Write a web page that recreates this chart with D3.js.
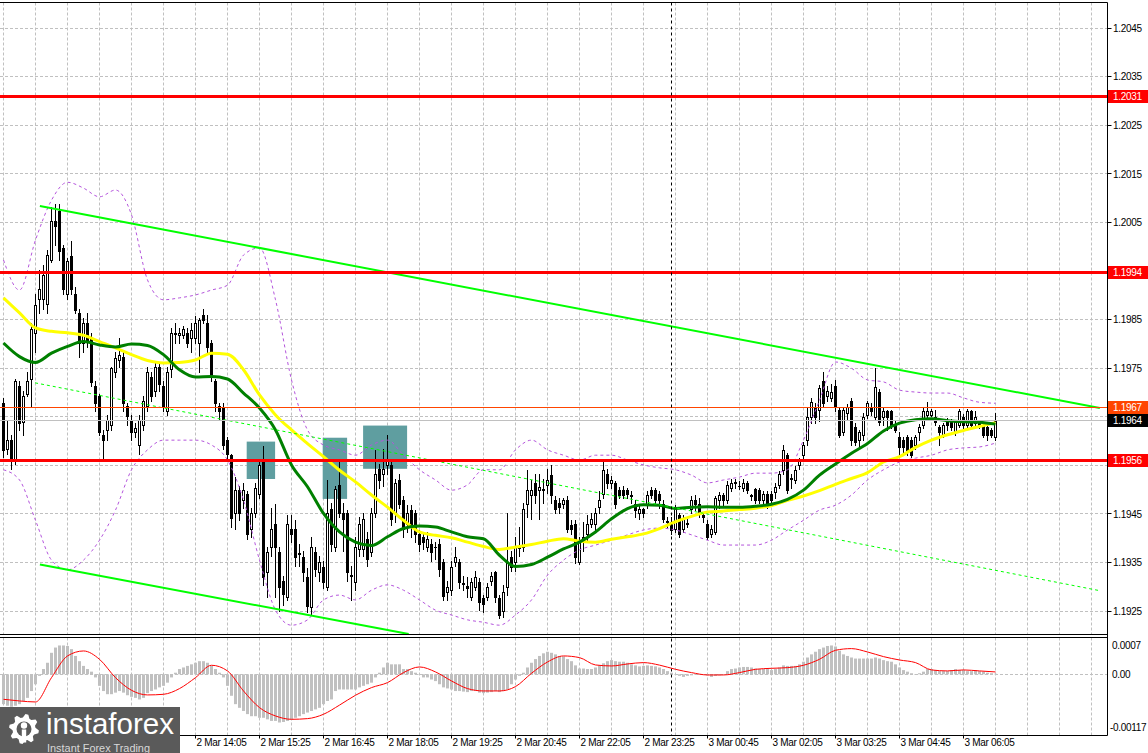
<!DOCTYPE html>
<html><head><meta charset="utf-8">
<script src="https://cdn.jsdelivr.net/npm/d3@7"></script>
<style>
html,body{margin:0;padding:0;background:#fff;}
svg{display:block;}
text{font-family:"Liberation Sans",Arial,sans-serif;}
</style></head><body>
<svg id="chart" width="1148" height="753"></svg>
<script>
// ---------------- DATA ----------------
const opens=[
1.19679,1.19583,1.19603,1.19563,1.19713,1.19639,1.19698,1.19728,1.19823,1.19893,
1.19893,1.19883,1.19973,1.20053,1.20073,1.19998,1.19903,1.19981,1.19902,1.19863,
1.19803,1.19843,1.19813,1.19713,1.19692,1.19613,1.19623,1.19633,1.19743,1.19768,
1.19773,1.19673,1.19643,1.19618,1.19593,1.19633,1.19673,1.19733,1.19703,1.19753,
1.19713,1.19663,1.19748,1.19823,1.19818,1.19818,1.19823,1.19813,1.19813,1.19803,
1.19860,1.19843,1.19802,1.19723,1.19673,1.19671,1.19603,1.19571,1.19451,1.19499,
1.19478,1.19492,1.19420,1.19451,1.19492,1.19561,1.19330,1.19382,1.19430,1.19371,
1.19313,1.19279,1.19420,1.19420,1.19368,1.19361,1.19320,1.19258,1.19371,1.19330,
1.19340,1.19299,1.19461,1.19382,1.19509,1.19453,1.19451,1.19325,1.19309,1.19378,
1.19378,1.19399,1.19371,1.19451,1.19543,1.19533,1.19551,1.19551,1.19451,1.19520,
1.19478,1.19430,1.19458,1.19451,1.19409,1.19403,1.19382,1.19389,1.19382,1.19389,
1.19351,1.19289,1.19293,1.19351,1.19351,1.19308,1.19301,1.19279,1.19299,1.19309,
1.19278,1.19279,1.19313,1.19330,1.19278,1.19251,1.19299,1.19361,1.19351,1.19382,
1.19382,1.19471,1.19489,1.19513,1.19499,1.19500,1.19509,1.19531,1.19478,1.19473,
1.19471,1.19478,1.19428,1.19430,1.19351,1.19392,1.19409,1.19430,1.19430,1.19464,
1.19492,1.19533,1.19513,1.19513,1.19499,1.19499,1.19500,1.19489,1.19471,1.19451,
1.19461,1.19471,1.19500,1.19500,1.19492,1.19471,1.19435,1.19433,1.19420,1.19447,
1.19420,1.19429,1.19461,1.19478,1.19471,1.19447,1.19430,1.19409,1.19413,1.19478,
1.19489,1.19478,1.19503,1.19513,1.19508,1.19503,1.19513,1.19489,1.19501,1.19499,
1.19478,1.19492,1.19492,1.19496,1.19509,1.19540,1.19571,1.19523,1.19519,1.19551,
1.19571,1.19602,1.19650,1.19671,1.19664,1.19723,1.19692,1.19688,1.19713,1.19664,
1.19619,1.19657,1.19682,1.19630,1.19602,1.19613,1.19654,1.19671,1.19650,1.19702,
1.19650,1.19661,1.19661,1.19633,1.19609,1.19602,1.19609,1.19602,1.19592,1.19619,
1.19633,1.19654,1.19654,1.19650,1.19630,1.19613,1.19640,1.19640,1.19619,1.19633,
1.19650,1.19633,1.19661,1.19637,1.19640,1.19633,1.19630,1.19623,1.19609];
const highs=[
1.19688,1.19643,1.19613,1.19728,1.19723,1.19703,1.19743,1.19843,1.19903,1.19953,
1.19963,1.19993,1.20083,1.20088,1.20089,1.20003,1.19978,1.20013,1.19918,1.19873,
1.19853,1.19863,1.19823,1.19723,1.19698,1.19623,1.19653,1.19753,1.19783,1.19813,
1.19783,1.19678,1.19653,1.19638,1.19653,1.19693,1.19753,1.19743,1.19763,1.19763,
1.19723,1.19753,1.19833,1.19843,1.19833,1.19838,1.19833,1.19843,1.19858,1.19853,
1.19873,1.19860,1.19808,1.19728,1.19678,1.19678,1.19608,1.19573,1.19527,1.19508,
1.19513,1.19498,1.19463,1.19513,1.19563,1.19589,1.19383,1.19463,1.19471,1.19383,
1.19323,1.19448,1.19448,1.19438,1.19388,1.19373,1.19338,1.19403,1.19383,1.19363,
1.19353,1.19520,1.19473,1.19508,1.19558,1.19473,1.19458,1.19343,1.19403,1.19443,
1.19453,1.19413,1.19463,1.19581,1.19553,1.19583,1.19613,1.19563,1.19523,1.19533,
1.19488,1.19468,1.19468,1.19458,1.19418,1.19413,1.19413,1.19398,1.19393,1.19398,
1.19358,1.19313,1.19353,1.19383,1.19358,1.19323,1.19320,1.19318,1.19333,1.19318,
1.19283,1.19308,1.19330,1.19333,1.19283,1.19303,1.19453,1.19373,1.19403,1.19423,
1.19473,1.19540,1.19520,1.19533,1.19533,1.19523,1.19543,1.19550,1.19488,1.19483,
1.19483,1.19488,1.19438,1.19438,1.19403,1.19433,1.19448,1.19453,1.19463,1.19498,
1.19558,1.19543,1.19528,1.19518,1.19506,1.19508,1.19503,1.19498,1.19478,1.19468,
1.19463,1.19498,1.19506,1.19503,1.19498,1.19478,1.19443,1.19443,1.19468,1.19453,
1.19448,1.19443,1.19488,1.19489,1.19483,1.19453,1.19438,1.19428,1.19488,1.19496,
1.19493,1.19518,1.19523,1.19523,1.19518,1.19523,1.19518,1.19492,1.19503,1.19503,
1.19498,1.19498,1.19498,1.19513,1.19538,1.19592,1.19575,1.19533,1.19548,1.19566,
1.19598,1.19668,1.19688,1.19678,1.19716,1.19743,1.19713,1.19718,1.19726,1.19671,
1.19668,1.19676,1.19688,1.19638,1.19623,1.19658,1.19683,1.19678,1.19750,1.19708,
1.19668,1.19664,1.19664,1.19643,1.19618,1.19608,1.19613,1.19608,1.19613,1.19635,
1.19668,1.19681,1.19666,1.19664,1.19633,1.19638,1.19648,1.19645,1.19643,1.19666,
1.19655,1.19666,1.19665,1.19663,1.19643,1.19638,1.19633,1.19628,1.19658];
const lows=[
1.19568,1.19573,1.19543,1.19553,1.19623,1.19613,1.19693,1.19673,1.19783,1.19863,
1.19873,1.19863,1.19968,1.20003,1.19973,1.19903,1.19893,1.19903,1.19863,1.19773,
1.19783,1.19793,1.19713,1.19663,1.19613,1.19563,1.19603,1.19623,1.19733,1.19753,
1.19663,1.19633,1.19603,1.19608,1.19573,1.19623,1.19663,1.19683,1.19693,1.19703,
1.19663,1.19653,1.19733,1.19803,1.19803,1.19813,1.19793,1.19783,1.19803,1.19743,
1.19843,1.19783,1.19723,1.19663,1.19643,1.19583,1.19563,1.19423,1.19420,1.19438,
1.19463,1.19398,1.19403,1.19443,1.19483,1.19303,1.19279,1.19363,1.19279,1.19251,
1.19263,1.19273,1.19393,1.19343,1.19343,1.19313,1.19248,1.19244,1.19323,1.19313,
1.19298,1.19293,1.19373,1.19373,1.19443,1.19373,1.19313,1.19273,1.19293,1.19363,
1.19363,1.19343,1.19363,1.19443,1.19503,1.19508,1.19533,1.19428,1.19433,1.19463,
1.19403,1.19413,1.19403,1.19393,1.19373,1.19378,1.19373,1.19353,1.19358,1.19323,
1.19273,1.19273,1.19283,1.19343,1.19298,1.19293,1.19279,1.19273,1.19293,1.19253,
1.19248,1.19273,1.19303,1.19268,1.19236,1.19238,1.19283,1.19333,1.19333,1.19363,
1.19373,1.19443,1.19440,1.19473,1.19440,1.19473,1.19493,1.19473,1.19451,1.19453,
1.19463,1.19413,1.19408,1.19350,1.19348,1.19373,1.19393,1.19423,1.19413,1.19453,
1.19483,1.19503,1.19503,1.19463,1.19483,1.19483,1.19483,1.19473,1.19443,1.19440,
1.19443,1.19463,1.19483,1.19473,1.19463,1.19433,1.19423,1.19409,1.19413,1.19403,
1.19413,1.19423,1.19453,1.19458,1.19443,1.19433,1.19398,1.19403,1.19408,1.19463,
1.19468,1.19473,1.19498,1.19503,1.19501,1.19498,1.19493,1.19478,1.19473,1.19473,
1.19468,1.19463,1.19473,1.19483,1.19503,1.19533,1.19493,1.19503,1.19513,1.19543,
1.19563,1.19593,1.19638,1.19638,1.19642,1.19673,1.19683,1.19683,1.19663,1.19608,
1.19613,1.19643,1.19593,1.19593,1.19588,1.19603,1.19648,1.19653,1.19643,1.19633,
1.19633,1.19623,1.19628,1.19618,1.19571,1.19578,1.19572,1.19567,1.19583,1.19603,
1.19628,1.19648,1.19651,1.19633,1.19593,1.19608,1.19623,1.19623,1.19613,1.19630,
1.19628,1.19630,1.19628,1.19633,1.19628,1.19608,1.19602,1.19608,1.19603];
const closes=[
1.19581,1.19603,1.19563,1.19723,1.19637,1.19693,1.19723,1.19831,1.19881,1.19913,
1.19943,1.19983,1.20053,1.20043,1.19991,1.19913,1.19971,1.19913,1.19871,1.19803,
1.19843,1.19809,1.19721,1.19678,1.19619,1.19603,1.19643,1.19750,1.19771,1.19778,
1.19678,1.19651,1.19619,1.19628,1.19643,1.19683,1.19743,1.19693,1.19753,1.19718,
1.19673,1.19743,1.19823,1.19820,1.19823,1.19831,1.19803,1.19828,1.19843,1.19850,
1.19850,1.19793,1.19733,1.19678,1.19661,1.19593,1.19573,1.19441,1.19499,1.19451,
1.19500,1.19409,1.19451,1.19503,1.19551,1.19320,1.19371,1.19420,1.19382,1.19299,
1.19285,1.19430,1.19409,1.19361,1.19369,1.19330,1.19261,1.19382,1.19337,1.19351,
1.19309,1.19451,1.19389,1.19502,1.19451,1.19440,1.19330,1.19323,1.19382,1.19430,
1.19440,1.19358,1.19451,1.19533,1.19520,1.19543,1.19561,1.19440,1.19513,1.19471,
1.19420,1.19451,1.19423,1.19409,1.19389,1.19392,1.19399,1.19371,1.19381,1.19337,
1.19282,1.19299,1.19341,1.19361,1.19309,1.19305,1.19297,1.19309,1.19320,1.19268,
1.19265,1.19299,1.19323,1.19279,1.19241,1.19289,1.19351,1.19341,1.19382,1.19383,
1.19461,1.19499,1.19499,1.19489,1.19506,1.19501,1.19520,1.19489,1.19461,1.19465,
1.19478,1.19420,1.19420,1.19361,1.19392,1.19403,1.19430,1.19440,1.19451,1.19478,
1.19540,1.19513,1.19519,1.19471,1.19489,1.19489,1.19491,1.19488,1.19458,1.19461,
1.19451,1.19489,1.19489,1.19478,1.19478,1.19440,1.19433,1.19416,1.19461,1.19409,
1.19440,1.19432,1.19478,1.19471,1.19451,1.19444,1.19403,1.19420,1.19482,1.19489,
1.19478,1.19509,1.19513,1.19516,1.19507,1.19513,1.19499,1.19488,1.19478,1.19478,
1.19492,1.19471,1.19478,1.19506,1.19533,1.19582,1.19499,1.19525,1.19540,1.19561,
1.19592,1.19650,1.19681,1.19650,1.19709,1.19678,1.19703,1.19702,1.19671,1.19613,
1.19664,1.19671,1.19602,1.19599,1.19619,1.19650,1.19678,1.19661,1.19712,1.19640,
1.19661,1.19650,1.19633,1.19623,1.19588,1.19588,1.19582,1.19571,1.19609,1.19630,
1.19661,1.19661,1.19661,1.19640,1.19619,1.19633,1.19633,1.19630,1.19640,1.19661,
1.19633,1.19661,1.19633,1.19650,1.19633,1.19613,1.19613,1.19613,1.19642];

// indicator lines, read every 4th bar
const maIndex=[0,4,8,12,16,20,24,28,32,36,40,44,48,52,56,60,64,68,72,76,80,84,88,92,96,100,104,108,112,116,120,124,128,132,136,140,144,148,152,156,160,164,168,172,176,180,184,188,192,196,200,204,208,212,216,220,224,228,232,236,240,244,248];
const maYellow=[1.19895,1.19864,1.19833,1.19826,1.19823,1.19818,1.19805,1.19792,1.19778,1.19766,1.19761,1.19762,1.19767,1.19781,1.19779,1.19747,1.19695,1.19654,1.19623,1.19595,1.19568,1.19540,1.19516,1.19489,1.19464,1.19437,1.19413,1.19406,1.19401,1.19392,1.19383,1.19377,1.19382,1.19387,1.19394,1.19399,1.19394,1.19392,1.19398,1.19403,1.19409,1.19420,1.19434,1.19445,1.19454,1.19456,1.19459,1.19462,1.19467,1.19478,1.19487,1.19498,1.19511,1.19523,1.19535,1.19557,1.19568,1.19587,1.19602,1.19613,1.19622,1.19630,1.19638];
const maGreen=[1.19802,1.19774,1.19762,1.19781,1.19795,1.19805,1.19798,1.19794,1.19800,1.19797,1.19778,1.19747,1.19732,1.19733,1.19728,1.19699,1.19668,1.19623,1.19551,1.19506,1.19451,1.19413,1.19392,1.19385,1.19403,1.19420,1.19425,1.19423,1.19413,1.19403,1.19399,1.19365,1.19342,1.19346,1.19361,1.19378,1.19392,1.19413,1.19440,1.19461,1.19469,1.19468,1.19461,1.19464,1.19465,1.19464,1.19464,1.19466,1.19470,1.19480,1.19499,1.19530,1.19553,1.19575,1.19595,1.19621,1.19637,1.19644,1.19646,1.19642,1.19640,1.19639,1.19635];
const bandUpper=[1.19973,1.19911,1.20014,1.20096,1.20133,1.20121,1.20103,1.20117,1.20066,1.19932,1.19891,1.19895,1.19901,1.19911,1.19921,1.19983,1.19998,1.19891,1.19726,1.19623,1.19592,1.19582,1.19571,1.19592,1.19602,1.19571,1.19541,1.19520,1.19499,1.19510,1.19541,1.19541,1.19582,1.19602,1.19582,1.19571,1.19561,1.19571,1.19571,1.19561,1.19551,1.19545,1.19541,1.19530,1.19514,1.19520,1.19526,1.19534,1.19534,1.19541,1.19602,1.19684,1.19763,1.19750,1.19726,1.19722,1.19705,1.19701,1.19699,1.19699,1.19689,1.19680,1.19678];
const bandLower=[1.19541,1.19520,1.19437,1.19355,1.19335,1.19355,1.19396,1.19458,1.19541,1.19582,1.19602,1.19602,1.19602,1.19592,1.19561,1.19479,1.19355,1.19252,1.19221,1.19232,1.19273,1.19283,1.19273,1.19293,1.19304,1.19293,1.19273,1.19252,1.19242,1.19232,1.19227,1.19221,1.19242,1.19273,1.19324,1.19355,1.19376,1.19386,1.19396,1.19407,1.19417,1.19421,1.19417,1.19407,1.19396,1.19386,1.19386,1.19386,1.19396,1.19417,1.19437,1.19458,1.19468,1.19489,1.19520,1.19541,1.19557,1.19565,1.19571,1.19582,1.19586,1.19588,1.19596];
const macdHist=[
-0.00057,-0.00060,-0.00062,-0.00060,-0.00057,-0.00051,-0.00045,-0.00032,-0.00019,-0.00003,
0.00010,0.00022,0.00041,0.00051,0.00055,0.00055,0.00054,0.00048,0.00035,0.00025,
0.00016,0.00010,0.00005,-0.00006,-0.00022,-0.00032,-0.00038,-0.00038,-0.00035,-0.00032,
-0.00035,-0.00040,-0.00043,-0.00045,-0.00048,-0.00045,-0.00036,-0.00032,-0.00029,-0.00025,
-0.00022,-0.00016,-0.00006,0.00003,0.00010,0.00013,0.00016,0.00019,0.00022,0.00025,
0.00025,0.00022,0.00016,0.00010,0.00003,-0.00006,-0.00022,-0.00041,-0.00057,-0.00064,
-0.00070,-0.00076,-0.00080,-0.00080,-0.00083,-0.00083,-0.00086,-0.00089,-0.00089,-0.00092,
-0.00091,-0.00089,-0.00086,-0.00083,-0.00080,-0.00076,-0.00073,-0.00070,-0.00067,-0.00064,
-0.00057,-0.00051,-0.00048,-0.00032,-0.00029,-0.00029,-0.00029,-0.00029,-0.00029,-0.00025,
-0.00022,-0.00019,-0.00016,-0.00006,0.00003,0.00013,0.00022,0.00019,0.00019,0.00019,
0.00010,0.00010,0.00006,0.00003,0.00000,-0.00006,-0.00006,-0.00010,-0.00013,-0.00019,
-0.00025,-0.00027,-0.00029,-0.00032,-0.00032,-0.00033,-0.00034,-0.00032,-0.00032,-0.00035,
-0.00036,-0.00035,-0.00034,-0.00032,-0.00034,-0.00032,-0.00029,-0.00019,-0.00010,-0.00003,
0.00003,0.00013,0.00022,0.00029,0.00035,0.00040,0.00043,0.00041,0.00038,0.00035,
0.00034,0.00029,0.00025,0.00017,0.00011,0.00011,0.00010,0.00010,0.00013,0.00017,
0.00021,0.00025,0.00027,0.00025,0.00024,0.00024,0.00022,0.00019,0.00017,0.00015,
0.00016,0.00017,0.00016,0.00015,0.00013,0.00010,0.00006,0.00003,0.00000,-0.00003,
-0.00005,-0.00003,-0.00002,0.00000,0.00000,0.00000,-0.00002,-0.00005,-0.00003,-0.00002,
0.00000,0.00006,0.00010,0.00011,0.00013,0.00014,0.00014,0.00013,0.00011,0.00010,
0.00010,0.00010,0.00008,0.00010,0.00013,0.00017,0.00016,0.00016,0.00016,0.00019,
0.00024,0.00032,0.00038,0.00043,0.00048,0.00051,0.00054,0.00055,0.00053,0.00045,
0.00038,0.00035,0.00032,0.00030,0.00030,0.00030,0.00030,0.00030,0.00032,0.00030,
0.00027,0.00025,0.00024,0.00019,0.00013,0.00008,0.00005,0.00002,0.00000,0.00002,
0.00005,0.00010,0.00010,0.00008,0.00006,0.00006,0.00006,0.00008,0.00010,0.00008,
0.00008,0.00006,0.00006,0.00008,0.00006,0.00005,0.00003,0.00002,0.00001];
const macdSignal=[-0.000477,-0.000509,-0.000528,-0.000064,0.00035,0.000445,0.000286,-0.000064,-0.000305,-0.000394,-0.000382,-0.000273,-0.000064,0.000172,0.000064,-0.000318,-0.000636,-0.000795,-0.000859,-0.000846,-0.000763,-0.000588,-0.0004,-0.000254,-0.000159,0.000032,0.00014,0.000045,-0.000127,-0.000273,-0.000318,-0.000318,-0.000235,0.000019,0.000235,0.00035,0.000318,0.000178,0.000159,0.000197,0.000223,0.000175,0.000095,0.000032,-0.000013,-0.000013,0.000032,0.000095,0.000114,0.000127,0.000172,0.000286,0.000458,0.00049,0.000426,0.000337,0.000273,0.000223,0.000083,0.000064,0.000083,0.000064,0.000045];

// axis ticks
const priceTicks=[1.2045,1.2035,1.2025,1.2015,1.2005,1.1995,1.1985,1.1975,1.1965,1.1955,1.1945,1.1935,1.1925];
const macdTicks=[0.0007,0,-0.00117];
const macdTickLabels=["0.0007","0.00","-0.00117"];
const timeTickIndex=[48,64,80,96,112,128,144,160,176,192,208,224,240];
const timeTickLabels=["2 Mar 14:05","2 Mar 15:25","2 Mar 16:45","2 Mar 18:05","2 Mar 19:25","2 Mar 20:45","2 Mar 22:05","2 Mar 23:25","3 Mar 00:45","3 Mar 02:05","3 Mar 03:25","3 Mar 04:45","3 Mar 06:05"];
const daySeparatorIndex=[167];

// horizontal levels
const redLevels=[1.2031,1.19948,1.1956];
const redLevelLabels=["1.2031","1.1994","1.1956"];
const orangeLevel=[1.1967];
const orangeLevelLabels=["1.1967"];
const bidLabel=["1.1964"];

// trend lines [startIndex, startPrice, endIndex, endPrice]
const trendUpper=[9.1,1.20084,274.1,1.19668];
const trendLower=[9.1,1.19346,101.3,1.19203];
const trendDashed=[7.9,1.19720,274.1,1.19292];

// rectangles
const boxStart=[60.8,79.8,89.9];
const boxEnd=[67.9,85.9,100.9];
const boxTop=[1.19599,1.19607,1.19632];
const boxBottom=[1.19522,1.19481,1.19543];

// ---------------- CHART ----------------
const svg=d3.select("#chart");
const plotRight=1107.5, mainTop=2.5, mainBottom=634.5, macdTop=637.5, macdBottom=735.5;
const x=d3.scaleLinear().domain([0,1]).range([3.5,7.5]);
const y=d3.scaleLinear().domain([1.1925,1.2045]).range([611.1,28.3]);
const ym=d3.scaleLinear().domain([-0.00117,0.0007]).range([735.6,637.6]);
const crisp=v=>Math.round(v-0.5)+0.5;

const defs=svg.append("defs");
defs.append("clipPath").attr("id","clipMain").append("rect").attr("x",0).attr("y",mainTop).attr("width",plotRight).attr("height",mainBottom-mainTop);
defs.append("clipPath").attr("id","clipMacd").append("rect").attr("x",0).attr("y",macdTop).attr("width",plotRight).attr("height",macdBottom-macdTop);

svg.append("rect").attr("width",1148).attr("height",753).attr("fill","#fff");

// grid
const gridIdx=d3.range(0,276,8);
const gGrid=svg.append("g").attr("stroke","#c0c0c0").attr("stroke-width",1).attr("stroke-dasharray","3,2");
gGrid.selectAll(".vg").data(gridIdx).enter().append("line")
  .attr("x1",d=>x(d)).attr("x2",d=>x(d)).attr("y1",mainTop).attr("y2",mainBottom);
gGrid.selectAll(".vg2").data(gridIdx).enter().append("line")
  .attr("x1",d=>x(d)).attr("x2",d=>x(d)).attr("y1",macdTop).attr("y2",macdBottom);
gGrid.selectAll(".hg").data(priceTicks).enter().append("line")
  .attr("x1",0).attr("x2",plotRight).attr("y1",d=>crisp(y(d))).attr("y2",d=>crisp(y(d)));
gGrid.append("line").attr("x1",0).attr("x2",plotRight).attr("y1",crisp(ym(0))).attr("y2",crisp(ym(0)));

const gMain=svg.append("g").attr("clip-path","url(#clipMain)");

// rectangles (background objects)
gMain.selectAll(".box").data(boxStart).enter().append("rect")
  .attr("x",(d,i)=>x(d)).attr("width",(d,i)=>x(boxEnd[i])-x(d))
  .attr("y",(d,i)=>y(boxTop[i])).attr("height",(d,i)=>y(boxBottom[i])-y(boxTop[i]))
  .attr("fill","#5f9ea0");

// candles
const idx=d3.range(closes.length);
gMain.selectAll(".wick").data(idx).enter().append("line")
  .attr("x1",i=>x(i)).attr("x2",i=>x(i))
  .attr("y1",i=>Math.round(y(highs[i]))).attr("y2",i=>Math.round(y(lows[i]))+1)
  .attr("stroke","#000").attr("stroke-width",1);
gMain.selectAll(".body").data(idx).enter().append("rect")
  .each(function(i){
    const o=opens[i],c=closes[i];
    const t=Math.round(y(Math.max(o,c))), b=Math.round(y(Math.min(o,c)));
    const s=d3.select(this);
    if(c>o){
      s.attr("x",x(i)-1).attr("y",t+0.5).attr("width",2).attr("height",Math.max(1,b-t))
       .attr("fill","#fff").attr("stroke","#000").attr("stroke-width",1);
    }else{
      s.attr("x",x(i)-1.5).attr("y",t).attr("width",3).attr("height",Math.max(1,b-t+1)).attr("fill","#000");
    }
  });

// bollinger bands
const lineIdx=(arr)=>d3.line().x((d,k)=>x(maIndex[k])).y(d=>y(d)).curve(d3.curveMonotoneX)(arr);
[bandUpper,bandLower].forEach(arr=>{
  gMain.append("path").attr("d",lineIdx(arr)).attr("fill","none")
    .attr("stroke","#b455dc").attr("stroke-width",1).attr("stroke-dasharray","3,3");
});
// moving averages
gMain.append("path").attr("d",lineIdx(maYellow)).attr("fill","none").attr("stroke","#ffff00").attr("stroke-width",3);
gMain.append("path").attr("d",lineIdx(maGreen)).attr("fill","none").attr("stroke","#008000").attr("stroke-width",3);

// trend lines
const tl=(t)=>gMain.append("line").attr("x1",x(t[0])).attr("y1",y(t[1])).attr("x2",x(t[2])).attr("y2",y(t[3]));
tl(trendUpper).attr("stroke","#00ff00").attr("stroke-width",2);
tl(trendLower).attr("stroke","#00ff00").attr("stroke-width",2);
tl(trendDashed).attr("stroke","#00ff00").attr("stroke-width",1).attr("stroke-dasharray","3,3");

// horizontal levels
gMain.selectAll(".red").data(redLevels).enter().append("line")
  .attr("x1",0).attr("x2",plotRight).attr("y1",d=>crisp(y(d))).attr("y2",d=>crisp(y(d)))
  .attr("stroke","#ff0000").attr("stroke-width",3);
gMain.selectAll(".orange").data(orangeLevel).enter().append("line")
  .attr("x1",0).attr("x2",plotRight).attr("y1",d=>crisp(y(d))).attr("y2",d=>crisp(y(d)))
  .attr("stroke","#ff4500").attr("stroke-width",1);
const bid=closes[closes.length-1];
gMain.append("line").attr("x1",0).attr("x2",plotRight).attr("y1",crisp(y(bid))).attr("y2",crisp(y(bid)))
  .attr("stroke","#c0c0c0").attr("stroke-width",1);

// day separator
svg.selectAll(".sep").data(daySeparatorIndex).enter().append("line")
  .attr("x1",d=>x(d)).attr("x2",d=>x(d)).attr("y1",mainTop).attr("y2",macdBottom)
  .attr("stroke","#000").attr("stroke-width",1).attr("stroke-dasharray","3,3");

// MACD
const gM=svg.append("g").attr("clip-path","url(#clipMacd)");
gM.selectAll(".hb").data(idx).enter().append("rect")
  .attr("x",i=>x(i)-1.5).attr("width",3)
  .attr("y",i=>Math.min(ym(0),ym(macdHist[i])))
  .attr("height",i=>Math.max(0.5,Math.abs(ym(macdHist[i])-ym(0))))
  .attr("fill","#c0c0c0");
gM.append("path").attr("d",d3.line().x((d,k)=>x(maIndex[k])).y(d=>ym(d)).curve(d3.curveMonotoneX)(macdSignal))
  .attr("fill","none").attr("stroke","#ff0000").attr("stroke-width",1);

// frame
const frame=svg.append("g").attr("stroke","#000").attr("stroke-width",1);
frame.append("line").attr("x1",0).attr("x2",plotRight).attr("y1",mainTop).attr("y2",mainTop);
frame.append("line").attr("x1",0).attr("x2",plotRight).attr("y1",mainBottom).attr("y2",mainBottom);
frame.append("line").attr("x1",0).attr("x2",plotRight).attr("y1",macdTop).attr("y2",macdTop);
frame.append("line").attr("x1",0).attr("x2",plotRight).attr("y1",macdBottom).attr("y2",macdBottom);
frame.append("line").attr("x1",plotRight).attr("x2",plotRight).attr("y1",mainTop).attr("y2",macdBottom);

// price axis labels (labels hidden behind a level marker are not drawn)
const markerPrices=redLevels.concat(orangeLevel,[bid]);
const visibleTicks=priceTicks.filter(p=>markerPrices.every(m=>Math.abs(y(p)-y(m))>13));
const gAx=svg.append("g").attr("font-size","10px").attr("letter-spacing","-0.3px");
gAx.selectAll(".pt").data(priceTicks).enter().append("line")
  .attr("x1",plotRight).attr("x2",plotRight+4).attr("y1",d=>crisp(y(d))).attr("y2",d=>crisp(y(d))).attr("stroke","#000");
gAx.selectAll(".pl").data(visibleTicks).enter().append("text")
  .attr("x",1113).attr("y",d=>y(d)).attr("dy","0.36em").attr("fill","#000").text(d=>d.toFixed(4));
// macd labels
gAx.selectAll(".ml").data(macdTicks).enter().append("text")
  .attr("x",(d,i)=>i===2?1110:1112).attr("y",d=>Math.max(645,Math.min(727,ym(d)))).attr("dy","0.36em")
  .attr("fill","#000").text((d,i)=>macdTickLabels[i]);
// time labels
gAx.selectAll(".tt").data(timeTickIndex).enter().append("line")
  .attr("x1",d=>x(d)).attr("x2",d=>x(d)).attr("y1",macdBottom).attr("y2",macdBottom+3).attr("stroke","#000");
gAx.selectAll(".tl").data(timeTickIndex).enter().append("text")
  .attr("x",d=>x(d)+1).attr("y",746).attr("fill","#000").text((d,i)=>timeTickLabels[i]);

// level label boxes
function levelBox(price,label,bg){
  const yy=crisp(y(price));
  gAx.append("rect").attr("x",1108).attr("y",yy-6.5).attr("width",40).attr("height",13).attr("fill",bg);
  gAx.append("text").attr("x",1113).attr("y",yy).attr("dy","0.36em").attr("fill","#fff").text(label);
}
redLevels.forEach((p,i)=>levelBox(p,redLevelLabels[i],"#ff0000"));
orangeLevel.forEach((p,i)=>levelBox(p,orangeLevelLabels[i],"#ff4500"));
levelBox(bid,bidLabel[0],"#000");

// logo
const logo=svg.append("g");
logo.append("rect").attr("x",0).attr("y",707).attr("width",180).attr("height",46).attr("fill","#5a5a5a");
const gcx=24, gcy=729, n=8;
const pts=d3.range(n*4).map(k=>{const a=(k+0.5)/(n*4)*2*Math.PI; const r=(k%4<2)?15:11.5; return [gcx+r*Math.cos(a),gcy+r*Math.sin(a)];});
logo.append("path").attr("d","M"+pts.join("L")+"Z").attr("fill","#fff");
logo.append("circle").attr("cx",gcx).attr("cy",gcy).attr("r",7.5).attr("fill","#5a5a5a");
logo.append("circle").attr("cx",gcx).attr("cy",gcy-3.5).attr("r",3.2).attr("fill","#fff");
logo.append("rect").attr("x",gcx-2.2).attr("y",gcy+0.5).attr("width",4.4).attr("height",13).attr("fill","#fff");
logo.append("text").attr("x",46).attr("y",734).attr("fill","#fff").attr("font-family","'Liberation Sans',Arial,sans-serif")
  .attr("font-size","29px").attr("textLength",128).attr("lengthAdjust","spacingAndGlyphs").text("instaforex");
logo.append("text").attr("x",47).attr("y",751.5).attr("fill","#d8d8d8").attr("font-family","'Liberation Sans',Arial,sans-serif")
  .attr("font-size","11.5px").attr("textLength",103).attr("lengthAdjust","spacingAndGlyphs").text("Instant Forex Trading");
</script>
</body></html>
